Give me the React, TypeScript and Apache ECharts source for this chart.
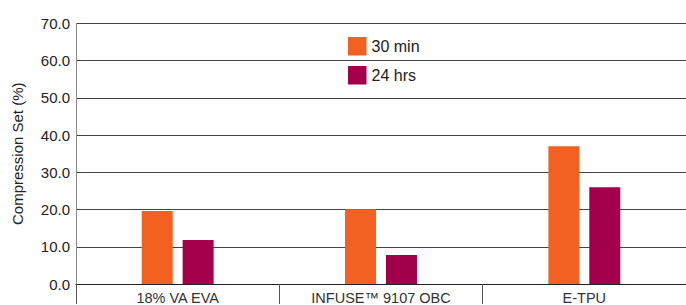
import React, { useEffect, useRef } from "react";
import * as echarts from "echarts";

const categories = ["18% VA EVA", "INFUSE™ 9107 OBC", "E-TPU"];
const series30min = [19.6, 20.1, 37.0];
const series24hrs = [11.8, 7.8, 26.0];
const seriesNames = ["30 min", "24 hrs"];

export default function App() {
  const ref = useRef<HTMLDivElement>(null);
  useEffect(() => {
    document.body.style.margin = "0";
    const chart = echarts.init(ref.current!, null, { renderer: "svg" });
    const font = "'Liberation Sans', Arial, sans-serif";
    chart.setOption({
      animation: false,
      textStyle: { fontFamily: font },
      legend: {
        orient: "vertical",
        left: 343,
        top: 32,
        itemWidth: 18.5,
        itemHeight: 18.5,
        itemGap: 10.5,
        itemStyle: { borderWidth: 0 },
        icon: "rect",
        textStyle: { fontSize: 16, color: "#222", fontFamily: font },
        data: seriesNames,
      },
      grid: { left: 76, top: 23.5, height: 261.5, width: 617 },
      xAxis: {
        type: "category",
        data: categories,
        axisLine: { show: true, lineStyle: { color: "#222", width: 1 } },
        axisTick: { show: true, length: 20, interval: 0, lineStyle: { color: "#555" } },
        axisLabel: { fontSize: 14.5, color: "#333", margin: 6, interval: 0, fontFamily: font },
      },
      yAxis: {
        type: "value",
        min: 0,
        max: 70,
        interval: 10,
        name: "Compression Set (%)",
        nameLocation: "middle",
        nameGap: 51,
        nameTextStyle: { fontSize: 15, color: "#222", fontFamily: font },
        axisLine: { show: true, lineStyle: { color: "#888", width: 1 } },
        axisTick: { show: false },
        axisLabel: {
          fontSize: 15,
          color: "#222",
          margin: 6,
          fontFamily: font,
          formatter: (v: number) => v.toFixed(1),
        },
        splitLine: { show: true, lineStyle: { color: "#444", width: 1 } },
      },
      series: [
        {
          name: seriesNames[0],
          type: "bar",
          data: series30min,
          barWidth: 31,
          barGap: "32%",
          itemStyle: { color: "#F26022" },
        },
        {
          name: seriesNames[1],
          type: "bar",
          data: series24hrs,
          barWidth: 31,
          itemStyle: { color: "#A3004B" },
        },
      ],
    });
    return () => chart.dispose();
  }, []);
  return <div ref={ref} style={{ width: 686, height: 305 }} />;
}
